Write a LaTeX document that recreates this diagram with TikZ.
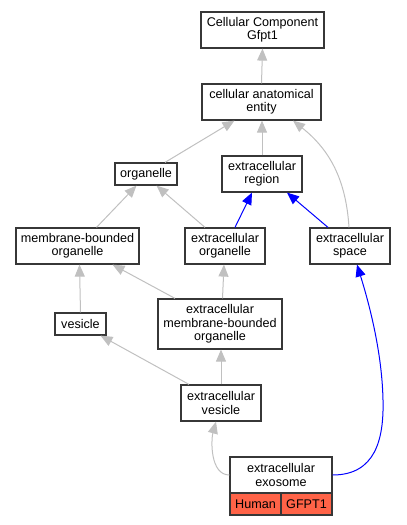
\documentclass[tikz,border=0pt]{standalone}
\usepackage{fontspec}
\setmainfont{Liberation Sans}
\usetikzlibrary{arrows.meta}
\definecolor{edgegray}{RGB}{192,192,192}
\definecolor{boxline}{RGB}{55,55,55}
\definecolor{genefill}{RGB}{255,99,71}
\tikzset{
  box/.style={draw=boxline, line width=1.2pt, fill=white, inner sep=0pt, align=center,
    font=\fontsize{12.6}{13.4}\selectfont},
  gedge/.style={draw=edgegray, line width=1pt, -{Triangle[length=12pt,width=10pt]}},
  bedge/.style={draw=blue, line width=1pt, -{Triangle[length=12pt,width=10pt]}},
  genebox/.style={box, fill=genefill}
}
\begin{document}
\begin{tikzpicture}[x=1pt,y=-1pt]
\useasboundingbox (0,0) rectangle (407,525);
\node[box, minimum width=123pt, minimum height=36pt] (ccg) at (262.5,30) {Cellular Component\\Gfpt1};
\node[box, minimum width=119pt, minimum height=36pt] (cae) at (261.5,102) {cellular anatomical\\entity};
\node[box, minimum width=62pt, minimum height=22pt] (org) at (146,174) {organelle};
\node[box, minimum width=80pt, minimum height=36pt] (er) at (262,174) {extracellular\\region};
\node[box, minimum width=123pt, minimum height=36pt] (mbo) at (77.5,246) {membrane-bounded\\organelle};
\node[box, minimum width=80pt, minimum height=36pt] (eo) at (225,246) {extracellular\\organelle};
\node[box, minimum width=80pt, minimum height=36pt] (es) at (350,246) {extracellular\\space};
\node[box, minimum width=51pt, minimum height=22pt] (ves) at (80.5,324) {vesicle};
\node[box, minimum width=124pt, minimum height=50pt] (emo) at (220,324) {extracellular\\membrane-bounded\\organelle};
\node[box, minimum width=80pt, minimum height=36pt] (ev) at (221,403) {extracellular\\vesicle};
\node[box, minimum width=102pt, minimum height=36pt] (exo) at (281,475) {extracellular\\exosome};
\node[genebox, minimum width=51pt, minimum height=22pt] (human) at (255.5,504) {Human};
\node[genebox, minimum width=51pt, minimum height=22pt] (gfpt) at (306.5,504) {GFPT1};

\draw[gedge] (cae.north) -- (ccg.south);
\draw[gedge] ([xshift=19pt]org.north) -- ([xshift=-27pt]cae.south);
\draw[gedge] (er.north) -- ([xshift=0.5pt]cae.south);
\draw[gedge] ([xshift=-1pt]es.north) .. controls (346,180) and (330,150) .. ([xshift=31.5pt]cae.south);
\draw[gedge] ([xshift=19pt]mbo.north) -- ([xshift=-9.5pt]org.south);
\draw[gedge] ([xshift=-20pt]eo.north) -- ([xshift=10.5pt]org.south);
\draw[bedge] ([xshift=10pt]eo.north) -- ([xshift=-10pt]er.south);
\draw[bedge] ([xshift=-22pt]es.north) -- ([xshift=25pt]er.south);
\draw[gedge] (ves.north) -- ([xshift=2pt]mbo.south);
\draw[gedge] ([xshift=-45pt]emo.north) -- ([xshift=35pt]mbo.south);
\draw[gedge] ([xshift=2.5pt]emo.north) -- ([xshift=-1pt]eo.south);
\draw[gedge] ([xshift=-32pt]ev.north) -- ([xshift=20pt]ves.south);
\draw[gedge] (ev.north) -- ([xshift=1pt]emo.south);
\draw[gedge] (exo.west) .. controls (210,475) and (211,440) .. ([xshift=-5pt]ev.south);
\draw[bedge] (exo.east) .. controls (375,475) and (384,440) .. (383,400) .. controls (382,350) and (368,300) .. ([xshift=7pt]es.south);
\end{tikzpicture}
\end{document}
